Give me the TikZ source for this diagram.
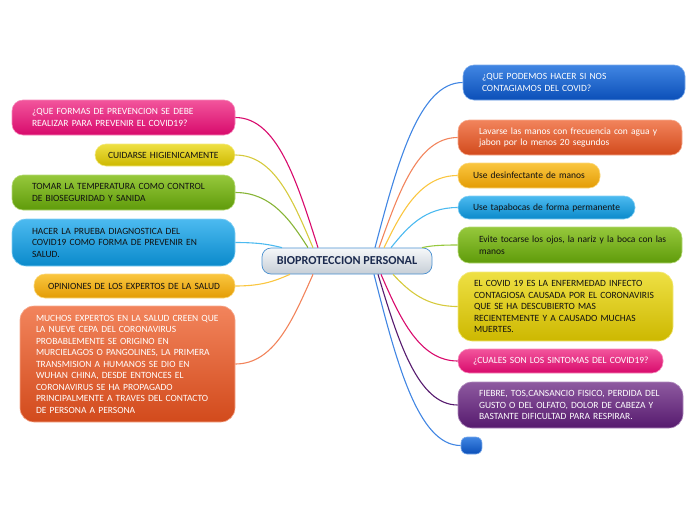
\documentclass[tikz,border=0pt]{standalone}
\usepackage{fontspec}
\setmainfont{Carlito}
\definecolor{pinkT}{HTML}{F2559C}\definecolor{pinkB}{HTML}{D80A6C}
\definecolor{yelT}{HTML}{EEE044}\definecolor{yelB}{HTML}{CDB800}
\definecolor{grnT}{HTML}{96C83C}\definecolor{grnB}{HTML}{5F9B0A}
\definecolor{skyT}{HTML}{4CBAF0}\definecolor{skyB}{HTML}{0A8ACB}
\definecolor{ambT}{HTML}{FAC640}\definecolor{ambB}{HTML}{E39C05}
\definecolor{orgT}{HTML}{F2845C}\definecolor{orgB}{HTML}{D24A1C}
\definecolor{royT}{HTML}{4186E3}\definecolor{royB}{HTML}{0B4FB8}
\definecolor{purT}{HTML}{8E5AA0}\definecolor{purB}{HTML}{561A6E}
\definecolor{cenT}{HTML}{F6F8FA}\definecolor{cenB}{HTML}{C6CED6}
\definecolor{cenD}{HTML}{4A90D0}\definecolor{cenTx}{HTML}{1B2A4E}
\definecolor{txt}{HTML}{111111}
\tikzset{
  box/.style={rounded corners=11pt, inner ysep=0pt, align=left, line width=0.6pt,
    font=\fontsize{9.5}{11.5}\selectfont},
  pinkbox/.style={top color=pinkT, bottom color=pinkB, draw=pinkT!70!white, text=white},
  yelbox/.style={top color=yelT, bottom color=yelB, draw=yelT!70!white, text=txt},
  grnbox/.style={top color=grnT, bottom color=grnB, draw=grnT!70!white, text=txt},
  skybox/.style={top color=skyT, bottom color=skyB, draw=skyT!70!white, text=txt},
  ambbox/.style={top color=ambT, bottom color=ambB, draw=ambT!70!white, text=txt},
  orgbox/.style={top color=orgT, bottom color=orgB, draw=orgT!70!white, text=white},
  roybox/.style={top color=royT, bottom color=royB, draw=royT!70!white, text=white},
  purbox/.style={top color=purT, bottom color=purB, draw=purT!70!white, text=white},
  conn/.style={line width=1.1pt},
}
\begin{document}
\begin{tikzpicture}[x=1pt,y=-1pt]
\useasboundingbox (0,0) rectangle (696,520);
% central
\node[rounded corners=9pt, top color=cenT, bottom color=cenB, draw=cenD, line width=0.7pt,
  minimum width=170pt, minimum height=26pt, inner sep=0pt, text=cenTx,
  font=\fontsize{12.2}{14}\selectfont\bfseries] (c) at (347,261) {BIOPROTECCION PERSONAL};
% left nodes
\node[box, pinkbox, minimum width=223pt, minimum height=35pt, text width=183pt, inner xsep=20pt] (l1) at (123.5,117.5)
  {\mbox{¿QUE FORMAS DE PREVENCION SE DEBE}\\\mbox{REALIZAR PARA PREVENIR EL COVID19?}};
\node[box, yelbox, minimum width=140pt, minimum height=22pt, text width=114pt, inner xsep=13pt] (l2) at (165,155)
  {\mbox{CUIDARSE HIGIENICAMENTE}};
\node[box, grnbox, minimum width=223pt, minimum height=35pt, text width=183pt, inner xsep=20pt] (l3) at (123.5,192.5)
  {\mbox{TOMAR LA TEMPERATURA COMO CONTROL}\\\mbox{DE BIOSEGURIDAD Y SANIDA}};
\node[box, skybox, rounded corners=14pt, minimum width=223pt, minimum height=47pt, text width=183pt, inner xsep=20pt] (l4) at (123.5,242.5)
  {\mbox{HACER LA PRUEBA DIAGNOSTICA DEL}\\\mbox{COVID19 COMO FORMA DE PREVENIR EN}\\\mbox{SALUD.}};
\node[box, ambbox, minimum width=201pt, minimum height=24pt, text width=173pt, inner xsep=14pt] (l5) at (134.5,286)
  {\mbox{OPINIONES DE LOS EXPERTOS DE LA SALUD}};
\node[box, orgbox, rounded corners=14pt, minimum width=215pt, minimum height=116pt, text width=183pt, inner xsep=16pt] (l6) at (127.5,364)
  {\mbox{MUCHOS EXPERTOS EN LA SALUD CREEN QUE}\\\mbox{LA NUEVE CEPA DEL CORONAVIRUS}\\\mbox{PROBABLEMENTE SE ORIGINO EN}\\\mbox{MURCIELAGOS O PANGOLINES, LA PRIMERA}\\\mbox{TRANSMISION A HUMANOS SE DIO EN}\\\mbox{WUHAN CHINA, DESDE ENTONCES EL}\\\mbox{CORONAVIRUS SE HA PROPAGADO}\\\mbox{PRINCIPALMENTE A TRAVES DEL CONTACTO}\\\mbox{DE PERSONA A PERSONA}};
% right nodes
\node[box, roybox, minimum width=222pt, minimum height=35pt, text width=184pt, inner xsep=19pt] (r1) at (574,82.5)
  {\mbox{¿QUE PODEMOS HACER SI NOS}\\\mbox{CONTAGIAMOS DEL COVID?}};
\node[box, orgbox, minimum width=224pt, minimum height=35pt, text width=182pt, inner xsep=21pt] (r2) at (570,137.5)
  {\mbox{Lavarse las manos con frecuencia con agua y}\\\mbox{jabon por lo menos 20 segundos}};
\node[box, ambbox, minimum width=142pt, minimum height=25pt, text width=112pt, inner xsep=15pt] (r3) at (529,175.5)
  {\mbox{Use desinfectante de manos}};
\node[box, skybox, minimum width=177pt, minimum height=23pt, text width=147pt, inner xsep=15pt] (r4) at (546.5,207.5)
  {\mbox{Use tapabocas de forma permanente}};
\node[box, grnbox, minimum width=224pt, minimum height=36pt, text width=182pt, inner xsep=21pt] (r5) at (570,245)
  {\mbox{Evite tocarse los ojos, la nariz y la boca con las}\\\mbox{manos}};
\node[box, yelbox, rounded corners=14pt, minimum width=215pt, minimum height=69pt, text width=183pt, inner xsep=16pt] (r6) at (565.5,306.5)
  {\mbox{EL COVID 19 ES LA ENFERMEDAD INFECTO}\\\mbox{CONTAGIOSA CAUSADA POR EL CORONAVIRIS}\\\mbox{QUE SE HA DESCUBIERTO MAS}\\\mbox{RECIENTEMENTE Y A CAUSADO MUCHAS}\\\mbox{MUERTES.}};
\node[box, pinkbox, minimum width=205pt, minimum height=24pt, text width=175pt, inner xsep=15pt] (r7) at (560.5,361)
  {\mbox{¿CUALES SON LOS SINTOMAS DEL COVID19?}};
\node[box, purbox, rounded corners=14pt, minimum width=225pt, minimum height=46pt, text width=183pt, inner xsep=21pt] (r8) at (570.5,405)
  {\mbox{FIEBRE, TOS,CANSANCIO FISICO, PERDIDA DEL}\\\mbox{GUSTO O DEL OLFATO, DOLOR DE CABEZA Y}\\\mbox{BASTANTE DIFICULTAD PARA RESPIRAR.}};
\node[roybox, rounded corners=6pt, line width=0.6pt, minimum width=21pt, minimum height=17pt, inner sep=0pt] (r9) at (471.5,445.5) {};
% connectors left
\draw[conn, pinkB] ([xshift=-29pt]c.north) .. controls +(-21,-66) and +(42,0) .. (l1.east);
\draw[conn, yelT!90!black] ([xshift=-34pt]c.north) .. controls +(-20,-47) and +(39,0) .. (l2.east);
\draw[conn, grnT!90!black] ([xshift=-39pt]c.north) .. controls +(-18,-28) and +(36,0) .. (l3.east);
\draw[conn, skyT] ([xshift=-65pt]c.north) .. controls +(-12,-3) and +(24,0) .. (l4.east);
\draw[conn, ambT] ([xshift=-57pt]c.south) .. controls +(-14,6) and +(28,0) .. (l5.east);
\draw[conn, orgT] ([xshift=-34pt]c.south) .. controls +(-20,45) and +(39,0) .. (l6.east);
% connectors right
\draw[conn, royT] ([xshift=28pt]c.north) .. controls +(22,-83) and +(-44,0) .. (r1.west);
\draw[conn, orgT] ([xshift=32pt]c.north) .. controls +(20,-56) and +(-40,0) .. (r2.west);
\draw[conn, ambT] ([xshift=37pt]c.north) .. controls +(18,-37) and +(-37,0) .. (r3.west);
\draw[conn, skyT] ([xshift=44pt]c.north) .. controls +(17,-21) and +(-33,0) .. (r4.west);
\draw[conn, grnT] ([xshift=75pt]c.north) .. controls +(9,-2) and +(-18,0) .. (r5.west);
\draw[conn, yelT!90!black] ([xshift=46pt]c.south) .. controls +(16,17) and +(-32,0) .. (r6.west);
\draw[conn, pinkB] ([xshift=34pt]c.south) .. controls +(19,44) and +(-38,0) .. (r7.west);
\draw[conn, purB] ([xshift=31pt]c.south) .. controls +(20,66) and +(-40,0) .. (r8.west);
\draw[conn, royT] ([xshift=27pt]c.south) .. controls +(22,86) and +(-43,0) .. (r9.west);
\end{tikzpicture}
\end{document}
